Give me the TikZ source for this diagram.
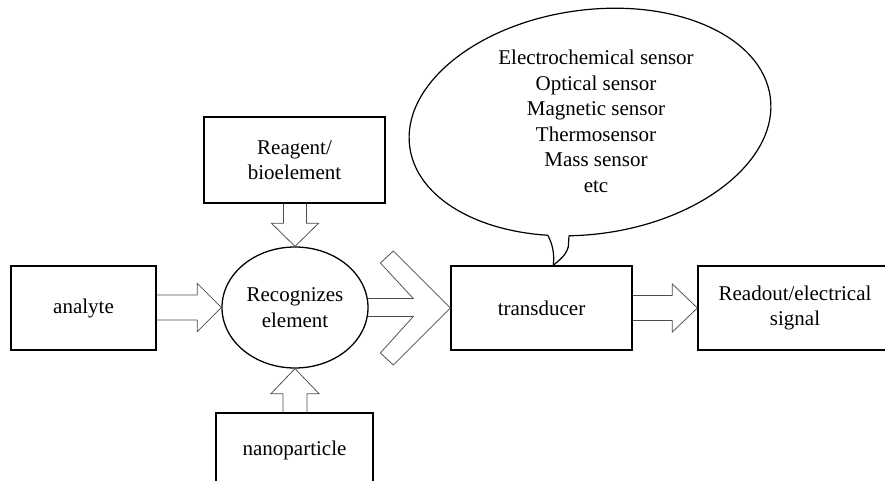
\documentclass[tikz,border=0pt]{standalone}
\usepackage{fontspec}
\setmainfont{Liberation Serif}
\usetikzlibrary{calc,shapes.geometric}

% horizontal block arrow: from, to, shaft half width, head half width, head length
\newcommand\hblock[5]{%
  \draw[blockarrow] let \p1=(#1), \p2=(#2) in
    (\x1,\y2+#3pt) -- (\x2-#5pt,\y2+#3pt) -- (\x2-#5pt,\y2+#4pt) -- (\p2)
    -- (\x2-#5pt,\y2-#4pt) -- (\x2-#5pt,\y2-#3pt) -- (\x1,\y2-#3pt);}

\begin{document}
\begin{tikzpicture}[x=1pt,y=1pt,
  txt/.style={font=\fontsize{21}{25.5}\selectfont, align=center},
  box/.style={txt, draw, line width=1.3pt, inner sep=0pt},
  blockarrow/.style={draw=black!70, line width=0.75pt, line join=miter},
  callout/.style={draw, line width=1.2pt}]
\useasboundingbox (0,0) rectangle (885,-481);

% blocks
\node[box, minimum width=145pt, minimum height=84pt] (ana) at (83.5,-308) {analyte};
\node[box, minimum width=181pt, minimum height=86pt] (rgt) at (294.5,-160) {Reagent/\\bioelement};
\node[box, ellipse, minimum width=146pt, minimum height=121pt] (rec) at (295,-307.5) {Recognizes\\element};
\node[box, minimum width=157pt, minimum height=74pt] (nan) at (294.5,-450) {nanoparticle};
\node[box, minimum width=181pt, minimum height=84pt] (tra) at (541.5,-308) {transducer};
\node[box, minimum width=194pt, minimum height=84pt] (out) at (795,-308) {Readout/electrical\\signal};

% block arrows
\hblock{ana.east}{rec.west}{12.5}{24}{24}
\hblock{tra.east}{out.west}{12.5}{24}{25}
\draw[blockarrow] let \p1=(rgt.south), \p2=(rec.north) in
  (\x2-11.5pt,\y1) -- (\x2-11.5pt,\y2+23pt) -- (\x2-23.5pt,\y2+23pt) -- (\p2)
  -- (\x2+23.5pt,\y2+23pt) -- (\x2+11.5pt,\y2+23pt) -- (\x2+11.5pt,\y1);
\draw[blockarrow] let \p1=(nan.north), \p2=(rec.south) in
  (\x2-12pt,\y1) -- (\x2-12pt,\y2-25pt) -- (\x2-24pt,\y2-25pt) -- (\p2)
  -- (\x2+24pt,\y2-25pt) -- (\x2+12pt,\y2-25pt) -- (\x2+12pt,\y1);
% chevron arrow into the transducer
\draw[blockarrow] let \p1=(rec.7), \p2=(rec.-7), \p3=(tra.west) in
  (\p1) -- (\x3-37pt,\y1) -- (\x3-70pt,\y3+45pt) -- (\x3-57pt,\y3+57pt) -- (\p3)
  -- (\x3-57pt,\y3-57pt) -- (\x3-70pt,\y3-45pt) -- (\x3-37pt,\y2) -- (\p2);

% speech bubble with the sensor types
\draw[callout, rotate around={8:(590,-122)}] (590,-122) ellipse [x radius=182pt, y radius=112pt];
\coordinate (tip) at ($(tra.north)+(11.8,0)$);
\coordinate (bl) at (547.8,-235.2);
\coordinate (br) at (569,-235.7);
\fill[white] (bl) -- (547.8,-226) -- (569,-226) -- (br) -- (568.3,-246.7)
  .. controls (566,-256) and (558,-261) .. (tip)
  .. controls (554.5,-255) and (553,-245) .. (bl) -- cycle;
\draw[callout] (bl) .. controls (553,-245) and (554.5,-255) .. (tip);
\draw[callout] (br) -- (568.3,-246.7) .. controls (566,-256) and (558,-261) .. (tip);
\node[txt] (types) at (596,-121.5) {Electrochemical sensor\\Optical sensor\\Magnetic sensor\\Thermosensor\\Mass sensor\\etc};
\end{tikzpicture}
\end{document}
